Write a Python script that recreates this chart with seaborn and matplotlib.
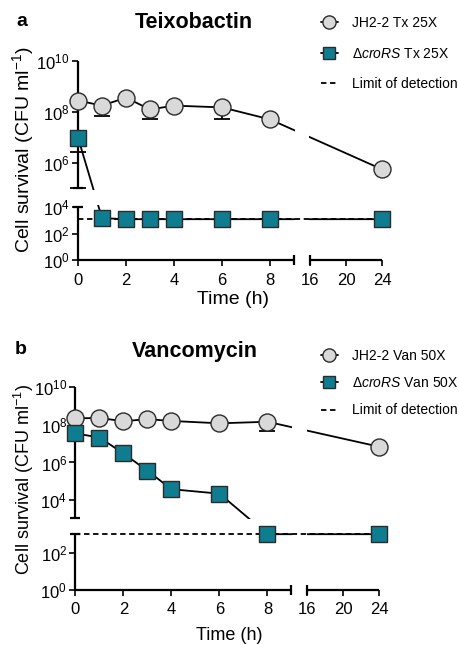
import numpy as np
import matplotlib
matplotlib.use("Agg")
import matplotlib.pyplot as plt
from matplotlib.lines import Line2D
from matplotlib.ticker import NullLocator
import seaborn as sns

# ---------------- data ----------------
time_h = [0, 1, 2, 3, 4, 6, 8, 24]
x_ticks = [0, 2, 4, 6, 8, 16, 20, 24]
y_ticks = [1e0, 1e2, 1e4, 1e6, 1e8, 1e10]
y_tick_labels = [r"$10^{0}$", r"$10^{2}$", r"$10^{4}$", r"$10^{6}$", r"$10^{8}$", r"$10^{10}$"]

# Panel a: Teixobactin 25X
jh2_tx = [2.7e8, 1.7e8, 3.5e8, 1.2e8, 1.7e8, 1.45e8, 4.9e7, 5.4e5]
jh2_tx_low = [2.5e6, 6.9e7, np.nan, 4.9e7, np.nan, 4.9e7, np.nan, np.nan]
cro_tx = [9.5e6, 1.45e3, 1.2e3, 1.2e3, 1.2e3, 1.2e3, 1.2e3, 1.2e3]
cro_tx_low = [1e5, np.nan, np.nan, np.nan, np.nan, np.nan, np.nan, np.nan]
lod_tx = 1.2e3

# Panel b: Vancomycin 50X
jh2_van = [2.2e8, 2.3e8, 1.55e8, 2.0e8, 1.6e8, 1.2e8, 1.45e8, 6.8e6]
jh2_van_low = [np.nan, np.nan, np.nan, np.nan, np.nan, np.nan, 4.8e7, np.nan]
cro_van = [3.5e7, 2.1e7, 3.0e6, 3.6e5, 3.8e4, 2.2e4, 1.0e3, 1.0e3]
cro_van_low = [np.nan] * 8
lod_van = 1.0e3

legend_a = ["JH2-2 Tx 25X", "Δ$\\mathit{croRS}$ Tx 25X", "Limit of detection"]
legend_b = ["JH2-2 Van 50X", "Δ$\\mathit{croRS}$ Van 50X", "Limit of detection"]

# ---------------- style ----------------
sns.set_style("ticks")
plt.rcParams["font.family"] = ["Liberation Sans", "DejaVu Sans"]
plt.rcParams["mathtext.fontset"] = "custom"
plt.rcParams["mathtext.rm"] = "Liberation Sans"
plt.rcParams["mathtext.it"] = "Liberation Sans:italic"
plt.rcParams["mathtext.bf"] = "Liberation Sans:bold"
plt.rcParams["text.color"] = "black"
plt.rcParams["axes.labelcolor"] = "black"
plt.rcParams["xtick.color"] = "black"
plt.rcParams["ytick.color"] = "black"

GREY = "#d9d9d9"
TEAL = "#0f7d90"
EDGE = "#2b2b2b"
LW = 1.3
AXLW = 1.6

W, H = 460, 645
fig = plt.figure(figsize=(W / 100, H / 100), dpi=100)

# broken x axis: 0-9 h and 16-24 h
x_break = (9, 16)
xk_t = [-100, 0, 9, 16, 24, 200]
xk_u = [-2400, 0, 216, 232, 304, 304 + 176 * 9]


def x_fwd(t):
    return np.interp(np.asarray(t, dtype=float), xk_t, xk_u)


def x_inv(u):
    return np.interp(np.asarray(u, dtype=float), xk_u, xk_t)


def make_y_scale(Lk, Vk):
    def fwd(y):
        y = np.asarray(y, dtype=float)
        return np.interp(np.log10(np.clip(y, 1e-30, None)), Lk, Vk)

    def inv(v):
        return 10 ** np.interp(np.asarray(v, dtype=float), Vk, Lk)

    return fwd, inv


def panel(rect, Lk, Vk, y_break, jh2, jh2_low, cro, cro_low, lod,
          title, letter, legend_labels, geo):
    ax = fig.add_axes(rect)
    ax.set_xscale("function", functions=(x_fwd, x_inv))
    ax.set_yscale("function", functions=make_y_scale(Lk, Vk))
    ax.set_xlim(0, 24)
    ax.set_ylim(1, 1e10)
    ax.patch.set_alpha(0)
    for s in ax.spines.values():
        s.set_visible(False)

    # connecting lines
    sns.lineplot(x=time_h, y=jh2, ax=ax, color="black", lw=LW, zorder=1.5,
                 legend=False, clip_on=False, estimator=None)
    sns.lineplot(x=time_h, y=cro, ax=ax, color="black", lw=LW, zorder=1.5,
                 legend=False, clip_on=False, estimator=None)

    # lower-only error bars
    for vals, lows in ((jh2, jh2_low), (cro, cro_low)):
        v = np.asarray(vals, float)
        lo = np.asarray(lows, float)
        m = ~np.isnan(lo)
        if m.any():
            t = np.asarray(time_h, float)[m]
            cont = ax.errorbar(t, v[m], yerr=[v[m] - lo[m], np.zeros(m.sum())],
                               fmt="none", ecolor="black", elinewidth=LW,
                               capsize=5.5, capthick=LW, zorder=1.6)
            for art in cont.get_children():
                art.set_clip_on(False)

    # white masks over the axis breaks
    ax.axvspan(9.4, 15.6, color="white", lw=0, zorder=2)
    lb, ub = np.log10(y_break[0]), np.log10(y_break[1])
    pad = (ub - lb) * 0.08
    ax.axhspan(10 ** (lb + pad), 10 ** (ub - pad), color="white", lw=0, zorder=2)

    # limit of detection
    ax.axhline(lod, color="black", lw=LW, ls=(0, (3, 2)), zorder=2.5)

    # broken axis lines
    ax.vlines([0, 0], [1, y_break[1]], [y_break[0], 1e10], color="black", lw=AXLW,
              zorder=2.6, clip_on=False)
    ax.hlines([1, 1], [0, x_break[1]], [x_break[0], 24], color="black", lw=AXLW,
              zorder=2.6, clip_on=False)
    ax.plot([0, 0], list(y_break), ls="none", marker="_", ms=7.5, mew=AXLW,
            color="black", zorder=2.6, clip_on=False)
    ax.plot(list(x_break), [1, 1], ls="none", marker="|", ms=7.5, mew=AXLW,
            color="black", zorder=2.6, clip_on=False)

    # markers
    sns.scatterplot(x=time_h, y=jh2, ax=ax, marker="o", s=150, color=GREY,
                    edgecolor=EDGE, linewidth=1.0, zorder=3, legend=False,
                    clip_on=False)
    sns.scatterplot(x=time_h, y=cro, ax=ax, marker="s", s=135, color=TEAL,
                    edgecolor=EDGE, linewidth=1.0, zorder=3.5, legend=False,
                    clip_on=False)

    # ticks
    ax.set_xticks(x_ticks, [str(t) for t in x_ticks])
    ax.set_yticks(y_ticks, y_tick_labels)
    ax.xaxis.set_minor_locator(NullLocator())
    ax.yaxis.set_minor_locator(NullLocator())
    ax.tick_params(axis="both", direction="out", length=4, width=1.2,
                   labelsize=12, color="black", labelcolor="black")
    ax.tick_params(axis="x", pad=5)
    ax.tick_params(axis="y", pad=2)
    ax.set_xlabel("")
    ax.set_ylabel("")

    # texts
    fs_lab = geo["fs_lab"]
    fig.text(geo["title"][0] / W, 1 - geo["title"][1] / H, title, ha="center",
             va="center", fontsize=15.5, fontweight="bold")
    fig.text(geo["letter"][0] / W, 1 - geo["letter"][1] / H, letter, ha="center",
             va="center", fontsize=14, fontweight="bold")
    fig.text(geo["xlabel"][0] / W, 1 - geo["xlabel"][1] / H, "Time (h)",
             ha="center", va="center", fontsize=fs_lab)
    fig.text(geo["ylabel"][0] / W, 1 - geo["ylabel"][1] / H,
             r"Cell survival (CFU ml$^{-1}$)", ha="center", va="center",
             rotation=90, fontsize=fs_lab)

    handles = [
        Line2D([], [], color="black", lw=LW, marker="o", ms=9.5,
               mfc=GREY, mec=EDGE, mew=1.0),
        Line2D([], [], color="black", lw=LW, marker="s", ms=9,
               mfc=TEAL, mec=EDGE, mew=1.0),
        Line2D([], [], color="black", lw=LW, ls=(0, (3, 2))),
    ]
    fig.legend(handles, legend_labels, loc="upper left",
               bbox_to_anchor=(geo["legend"][0] / W, 1 - geo["legend"][1] / H),
               frameon=False, fontsize=10, handlelength=1.2,
               handletextpad=1.0, borderpad=0, borderaxespad=0,
               labelspacing=geo["lspace"], labelcolor="black")
    return ax


# Panel a
La = [-30, 0, 4, 5, 10, 40]
Va = [-30 * 13.25, 0, 53, 72, 199.5, 199.5 + 30 * 25.5]
panel([78 / W, (H - 260) / H, 304 / W, 199.5 / H], La, Va, (1e4, 1e5),
      jh2_tx, jh2_tx_low, cro_tx, cro_tx_low, lod_tx,
      "Teixobactin", "a", legend_a,
      dict(title=(194, 22), letter=(22, 22), xlabel=(233, 300),
           ylabel=(23, 150), legend=(321, 16), lspace=1.2, fs_lab=14))

# Panel b
Lb = [-30, 0, 3, 3.04, 10, 40]
top_b = 71.8 + 6.96 * 18.83
Vb = [-30 * 18.6, 0, 55.8, 71.8, top_b, top_b + 30 * 18.83]
panel([75.5 / W, (H - 590) / H, 304 / W, top_b / H], Lb, Vb, (1e3, 10 ** 3.04),
      jh2_van, jh2_van_low, cro_van, cro_van_low, lod_van,
      "Vancomycin", "b", legend_b,
      dict(title=(195, 352), letter=(21, 350), xlabel=(229, 636),
           ylabel=(24, 480), legend=(321, 349), lspace=0.95, fs_lab=13))

fig.savefig("out.png", dpi=100)
